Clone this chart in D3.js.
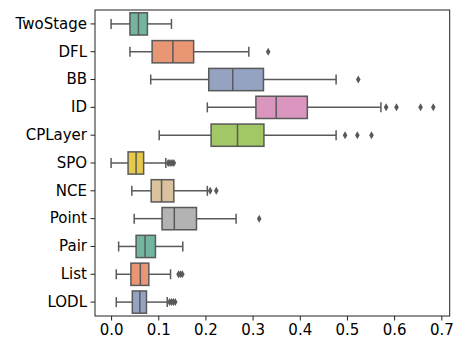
<!DOCTYPE html>
<html><head><meta charset="utf-8">
<script src="https://cdn.jsdelivr.net/npm/d3@7"></script>
<style>body{margin:0;background:#fff}svg{display:block}text{font-family:"DejaVu Sans",sans-serif}</style>
</head><body><svg id="c" width="465" height="349"></svg>
<script>
const categories = ["TwoStage","DFL","BB","ID","CPLayer","SPO","NCE","Point","Pair","List","LODL"];
// [whiskerLow, q1, median, q3, whiskerHigh]
const stats = [
  [0.000,0.040,0.058,0.077,0.128],
  [0.040,0.087,0.131,0.175,0.292],
  [0.084,0.207,0.258,0.323,0.477],
  [0.204,0.307,0.350,0.416,0.572],
  [0.102,0.212,0.268,0.324,0.477],
  [0.000,0.036,0.053,0.069,0.116],
  [0.044,0.085,0.107,0.133,0.204],
  [0.049,0.108,0.134,0.181,0.265],
  [0.016,0.053,0.072,0.094,0.152],
  [0.011,0.042,0.062,0.080,0.126],
  [0.011,0.045,0.061,0.075,0.119]
];
const outliers = [
  [],
  [0.333],
  [0.524],
  [0.583,0.605,0.656,0.683],
  [0.496,0.522,0.552],
  [0.121,0.125,0.129,0.133],
  [0.210,0.223],
  [0.314],
  [],
  [0.143,0.147,0.151],
  [0.124,0.128,0.132,0.136]
];
const xTicks = [0,0.1,0.2,0.3,0.4,0.5,0.6,0.7];
const palette = ["#66c2a5","#fc8d62","#8da0cb","#e78ac3","#a6d854","#ffd92f","#e5c494","#b3b3b3"];

const svg = d3.select("#c");
const L=95, R=449.7, T=10, B=316;
const x = d3.scaleLinear().domain([-0.0341,0.7178]).range([L,R]);
const y = d3.scaleBand().domain(categories).range([T,B]).paddingInner(0).paddingOuter(0);
const gray = "#595959";
const bw = y.bandwidth()*0.8;
const capH = 10;

function desat(c){const h=d3.hsl(c);h.s*=0.75;return h.formatHex();}

const g = svg.append("g");
categories.forEach((cat,i)=>{
  const s = stats[i];
  const cy = y(cat)+y.bandwidth()/2;
  const col = desat(palette[i%palette.length]);
  // whiskers
  g.append("line").attr("x1",x(s[0])).attr("x2",x(s[1])).attr("y1",cy).attr("y2",cy).attr("stroke",gray).attr("stroke-width",1.5);
  g.append("line").attr("x1",x(s[3])).attr("x2",x(s[4])).attr("y1",cy).attr("y2",cy).attr("stroke",gray).attr("stroke-width",1.5);
  // caps
  [s[0],s[4]].forEach(v=>g.append("line").attr("x1",x(v)).attr("x2",x(v)).attr("y1",cy-capH/2).attr("y2",cy+capH/2).attr("stroke",gray).attr("stroke-width",1.5));
  // box
  g.append("rect").attr("x",x(s[1])).attr("y",cy-bw/2).attr("width",x(s[3])-x(s[1])).attr("height",bw)
    .attr("fill",col).attr("stroke",gray).attr("stroke-width",1.5);
  // median
  g.append("line").attr("x1",x(s[2])).attr("x2",x(s[2])).attr("y1",cy-bw/2).attr("y2",cy+bw/2).attr("stroke",gray).attr("stroke-width",1.5);
  // outliers (thin diamonds)
  outliers[i].forEach(v=>{
    const px=x(v);
    g.append("path").attr("d",`M${px},${cy-4}L${px+2.3},${cy}L${px},${cy+4}L${px-2.3},${cy}Z`).attr("fill",gray);
  });
});

// frame
svg.append("rect").attr("x",L).attr("y",T).attr("width",R-L).attr("height",B-T).attr("fill","none").attr("stroke","#222").attr("stroke-width",1);

// axes
const xa = svg.append("g").attr("transform",`translate(0,${B})`)
  .call(d3.axisBottom(x).tickValues(xTicks).tickFormat(d3.format(".1f")).tickSizeOuter(0).tickSize(4.5).tickPadding(3.5));
const ya = svg.append("g").attr("transform",`translate(${L},0)`)
  .call(d3.axisLeft(y).tickSizeOuter(0).tickSize(4.5).tickPadding(3.5));
[xa,ya].forEach(a=>{
  a.select(".domain").remove();
  a.selectAll(".tick line").attr("stroke","#222").attr("stroke-width",1);
  a.selectAll("text").attr("font-size",15).attr("fill","#000").attr("font-family","DejaVu Sans");
});
</script></body></html>
